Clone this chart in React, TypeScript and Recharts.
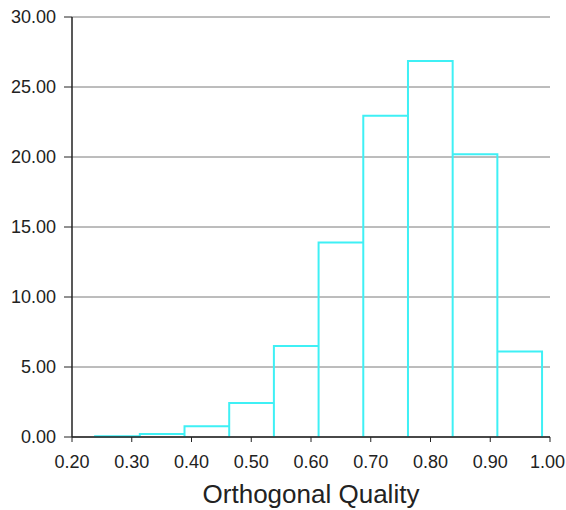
import { ComposedChart, Line, XAxis, YAxis, CartesianGrid } from 'recharts';

// histogram bin edges (11) and heights (10)
const binEdges = [0.2387, 0.3135, 0.3883, 0.4631, 0.5379, 0.6127, 0.6875, 0.7623, 0.8371, 0.9119, 0.9867];
const binHeights = [0.05, 0.22, 0.76, 2.43, 6.5, 13.9, 22.95, 26.85, 20.2, 6.1];

const xTicks = [0.2, 0.3, 0.4, 0.5, 0.6, 0.7, 0.8, 0.9, 1.0];
const xMinorTicks = [
  0.225, 0.25, 0.275, 0.325, 0.35, 0.375, 0.425, 0.45, 0.475, 0.525, 0.55, 0.575,
  0.625, 0.65, 0.675, 0.725, 0.75, 0.775, 0.825, 0.85, 0.875, 0.925, 0.95, 0.975,
];
const yTicks = [0, 5, 10, 15, 20, 25, 30];
const yMinorTicks = [2.5, 7.5, 12.5, 17.5, 22.5, 27.5];

const xLabel = 'Orthogonal Quality';

// outline path of the histogram: each bin as up / across / down
const outline: { x: number; y: number }[] = [];
binHeights.forEach((h, i) => {
  outline.push({ x: binEdges[i], y: 0 });
  outline.push({ x: binEdges[i], y: h });
  outline.push({ x: binEdges[i + 1], y: h });
  outline.push({ x: binEdges[i + 1], y: 0 });
});

const font = '"Liberation Sans", Arial, sans-serif';
const ink = '#222';
const W = 566;

// x tick label; the last one is kept inside the svg edge
function XTick(props: any) {
  const { x, y, payload } = props;
  const label = Number(payload.value).toFixed(2);
  const nearEdge = x + 20 > W;
  return (
    <text
      x={nearEdge ? W - 1 : x}
      y={y}
      dy="0.71em"
      textAnchor={nearEdge ? 'end' : 'middle'}
      fontSize={18}
      fill={ink}
      fontFamily={font}
    >
      {label}
    </text>
  );
}

export default function App() {
  return (
    <div style={{ position: 'absolute', left: 0, top: 0, width: W, height: 510, background: '#fff' }}>
      <ComposedChart
        width={W}
        height={510}
        data={outline}
        margin={{ top: 17, right: 16, bottom: 0, left: 0 }}
        style={{ fontFamily: font }}
      >
        <CartesianGrid horizontal vertical={false} stroke="#7a7a7a" strokeWidth={1} />
        <XAxis
          xAxisId="minor"
          dataKey="x"
          type="number"
          domain={[0.2, 1.0]}
          ticks={xMinorTicks}
          tickSize={3}
          tickFormatter={() => ''}
          axisLine={false}
          tickLine={{ stroke: ink }}
          height={0}
        />
        <XAxis
          dataKey="x"
          type="number"
          domain={[0.2, 1.0]}
          ticks={xTicks}
          tickSize={5}
          tickMargin={13}
          axisLine={{ stroke: ink, strokeWidth: 1.5 }}
          tickLine={{ stroke: ink }}
          tick={<XTick />}
          height={73}
          label={{ value: xLabel, position: 'insideBottom', offset: 7, fontSize: 26, fill: ink }}
        />
        <YAxis
          yAxisId="minor"
          type="number"
          domain={[0, 30]}
          ticks={yMinorTicks}
          tickSize={4}
          tickFormatter={() => ''}
          axisLine={false}
          tickLine={{ stroke: ink }}
          width={0}
        />
        <YAxis
          type="number"
          domain={[0, 30]}
          ticks={yTicks}
          tickSize={8}
          tickMargin={8}
          tickFormatter={(v: number) => v.toFixed(2)}
          axisLine={{ stroke: ink, strokeWidth: 1.5 }}
          tickLine={{ stroke: ink }}
          tick={{ fontSize: 18, fill: ink }}
          width={72}
        />
        <Line
          dataKey="y"
          type="linear"
          stroke="#3ff0f5"
          strokeWidth={2}
          dot={false}
          activeDot={false}
          isAnimationActive={false}
        />
      </ComposedChart>
    </div>
  );
}
